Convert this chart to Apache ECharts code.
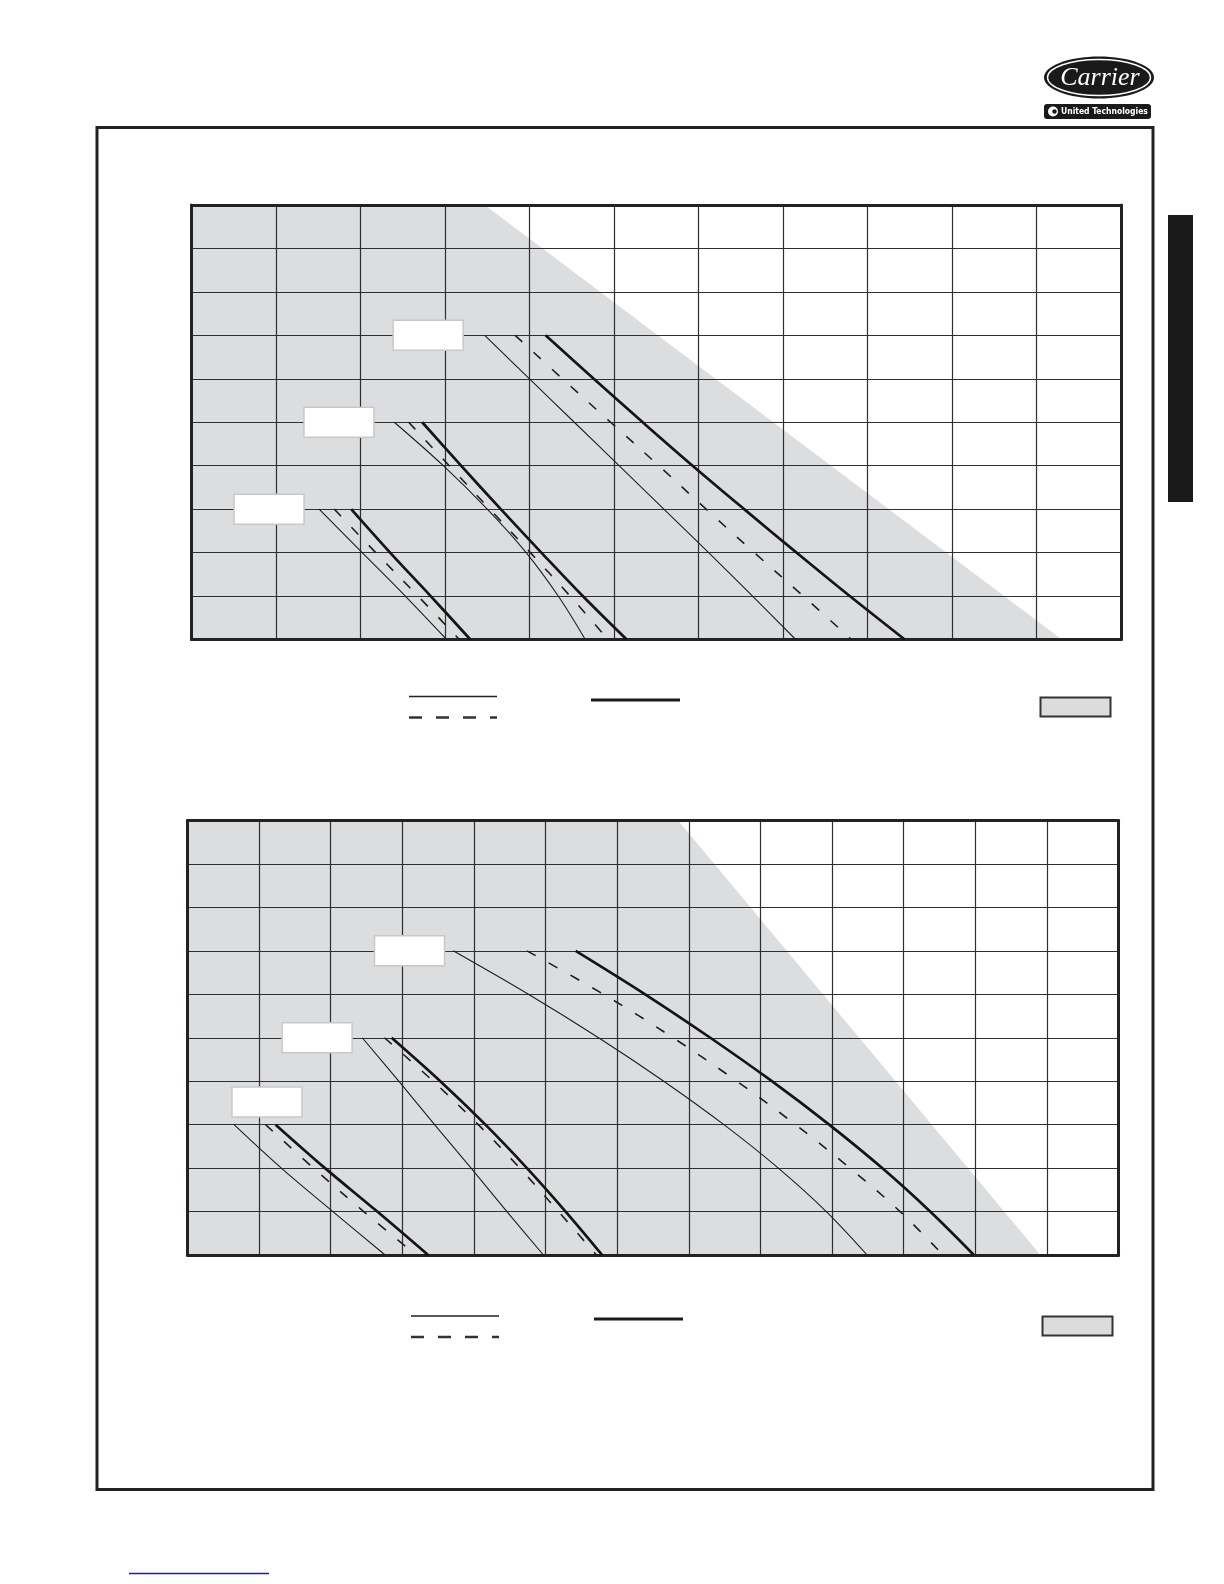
<!DOCTYPE html>
<html>
<head>
<meta charset="utf-8">
<script src="https://cdn.jsdelivr.net/npm/echarts/dist/echarts.min.js"></script>
<style>
html,body{margin:0;padding:0;background:#fff;}
#c{width:1224px;height:1584px;}
</style>
</head>
<body>
<div id="c"></div>
<script>
// ---------- data (abstract grid units: x = columns, y = rows) ----------
const xMax1 = 11, xMax2 = 13, yMax = 10;

// shaded operating region boundary
const shade1 = [[0, 10], [3.47, 10], [10.30, 0]];
const shade2 = [[0, 10], [6.85, 10], [11.91, 0]];

// chart 1 curves [x, y]
const c1ThinA   = [[1.51, 3], [2.02, 2], [2.53, 1], [3.02, 0]];
const c1DashA   = [[1.69, 3], [2.18, 2], [2.68, 1], [3.17, 0]];
const c1ThickA  = [[1.89, 3], [2.35, 2], [2.83, 1], [3.30, 0]];
const c1ThinB   = [[2.40, 5], [2.98, 4], [3.50, 3], [3.96, 2], [4.34, 1], [4.66, 0]];
const c1DashB   = [[2.57, 5], [3.05, 4], [3.53, 3], [4.01, 2], [4.48, 1], [4.93, 0]];
const c1ThickB  = [[2.73, 5], [3.19, 4], [3.66, 3], [4.14, 2], [4.63, 1], [5.15, 0]];
const c1ThinC   = [[3.47, 7], [4.00, 6], [4.53, 5], [5.06, 4], [5.59, 3], [6.12, 2], [6.64, 1], [7.15, 0]];
const c1DashC   = [[3.83, 7], [4.39, 6], [4.96, 5], [5.53, 4], [6.09, 3], [6.66, 2], [7.24, 1], [7.81, 0]];
const c1ThickC  = [[4.19, 7], [4.76, 6], [5.34, 5], [5.93, 4], [6.54, 3], [7.16, 2], [7.79, 1], [8.44, 0]];

// chart 2 curves [x, y]
const c2ThinA   = [[0.65, 3], [1.31, 2], [2.03, 1], [2.76, 0]];
const c2DashA   = [[1.09, 3], [1.76, 2], [2.46, 1], [3.19, 0]];
const c2ThickA  = [[1.23, 3], [1.92, 2], [2.65, 1], [3.36, 0]];
const c2ThinB   = [[2.44, 5], [2.95, 4], [3.45, 3], [3.96, 2], [4.46, 1], [4.97, 0]];
const c2DashB   = [[2.75, 5], [3.43, 4], [4.06, 3], [4.64, 2], [5.18, 1], [5.71, 0]];
const c2ThickB  = [[2.85, 5], [3.53, 4], [4.16, 3], [4.74, 2], [5.28, 1], [5.79, 0]];
const c2ThinC   = [[3.71, 7], [4.76, 6], [5.74, 5], [6.65, 4], [7.49, 3], [8.25, 2], [8.92, 1], [9.49, 0]];
const c2DashC   = [[4.74, 7], [5.81, 6], [6.78, 5], [7.67, 4], [8.49, 3], [9.25, 2], [9.95, 1], [10.55, 0]];
const c2ThickC  = [[5.42, 7], [6.39, 6], [7.30, 5], [8.16, 4], [8.96, 3], [9.70, 2], [10.37, 1], [10.98, 0]];

// label box anchors (box centres)
const labels1 = [[0.918, 3], [1.745, 5], [2.80, 7]];
const labels2 = [[1.11, 3.52], [1.81, 5], [3.10, 7]];

// ---------- styles ----------
const gridLine = {color: '#2f2f2f', width: 1.2};
const borderLine = {color: '#222', width: 3};
const thinStyle = {color: '#1e1e1e', width: 1.1};
const dashStyle = {color: '#1e1e1e', width: 1.6, type: [10, 15]};
const thickStyle = {color: '#141414', width: 2.7};

function axisPair(kind, gi, max) {
  const base = {type: 'value', gridIndex: gi, min: 0, max: max, interval: 1,
    axisTick: {show: false}, axisLabel: {show: false}};
  const a = Object.assign({}, base, {
    position: kind === 'x' ? 'bottom' : 'left', z: 2,
    axisLine: {show: true, onZero: false, lineStyle: borderLine},
    splitLine: {show: true, lineStyle: gridLine}
  });
  const b = Object.assign({}, base, {
    position: kind === 'x' ? 'top' : 'right', z: 5,
    axisLine: {show: true, onZero: false, lineStyle: borderLine},
    splitLine: {show: false}
  });
  return [a, b];
}

function shadeSeries(data, ai) {
  return {type: 'line', xAxisIndex: ai, yAxisIndex: ai, data: data, z: 1,
    symbol: 'none', silent: true, lineStyle: {width: 0},
    areaStyle: {color: '#dcddde', opacity: 1}};
}
function curve(data, style, ai) {
  return {type: 'line', xAxisIndex: ai, yAxisIndex: ai, data: data, z: 3,
    symbol: 'none', smooth: 0.35, silent: true, lineStyle: style};
}
function boxes(data, ai) {
  return {type: 'custom', xAxisIndex: ai, yAxisIndex: ai, data: data, z: 4, silent: true,
    renderItem: function (params, api) {
      const p = api.coord([api.value(0), api.value(1)]);
      return {type: 'rect', shape: {x: p[0] - 35, y: p[1] - 15, width: 70, height: 30},
        style: {fill: '#ffffff', stroke: '#c8c8c8', lineWidth: 1.5}};
    }};
}

const series = [
  shadeSeries(shade1, 0),
  curve(c1ThinA, thinStyle, 0), curve(c1DashA, dashStyle, 0), curve(c1ThickA, thickStyle, 0),
  curve(c1ThinB, thinStyle, 0), curve(c1DashB, dashStyle, 0), curve(c1ThickB, thickStyle, 0),
  curve(c1ThinC, thinStyle, 0), curve(c1DashC, dashStyle, 0), curve(c1ThickC, thickStyle, 0),
  boxes(labels1, 0),
  shadeSeries(shade2, 2),
  curve(c2ThinA, thinStyle, 2), curve(c2DashA, dashStyle, 2), curve(c2ThickA, thickStyle, 2),
  curve(c2ThinB, thinStyle, 2), curve(c2DashB, dashStyle, 2), curve(c2ThickB, thickStyle, 2),
  curve(c2ThinC, thinStyle, 2), curve(c2DashC, dashStyle, 2), curve(c2ThickC, thickStyle, 2),
  boxes(labels2, 2)
];

function legendKeys(yThin, yDash, xThin, xThick, yThick, boxX, boxY) {
  return [
    {type: 'line', shape: {x1: xThin, y1: yThin, x2: xThin + 88, y2: yThin}, style: {stroke: '#222', lineWidth: 1.4}},
    {type: 'line', shape: {x1: xThin, y1: yDash, x2: xThin + 88, y2: yDash}, style: {stroke: '#333', lineWidth: 2.4, lineDash: [13, 14]}},
    {type: 'line', shape: {x1: xThick, y1: yThick, x2: xThick + 89, y2: yThick}, style: {stroke: '#1a1a1a', lineWidth: 2.8}},
    {type: 'rect', shape: {x: boxX, y: boxY, width: 70, height: 19}, style: {fill: '#dcdcdc', stroke: '#333', lineWidth: 2}}
  ];
}

const graphic = [
  // page frame
  {type: 'rect', shape: {x: 97, y: 127.5, width: 1056, height: 1362}, style: {fill: 'none', stroke: '#222', lineWidth: 3}, z: 10},
  // side tab
  {type: 'rect', shape: {x: 1168, y: 215, width: 25, height: 287}, style: {fill: '#1a1a1a'}},
  // logo
  {type: 'ellipse', shape: {cx: 1099, cy: 77.5, rx: 55, ry: 21}, style: {fill: '#1a1a1a'}},
  {type: 'ellipse', shape: {cx: 1099, cy: 77.5, rx: 51.5, ry: 18}, style: {fill: 'none', stroke: '#fff', lineWidth: 1.4}},
  {type: 'text', x: 1100, y: 78, style: {text: 'Carrier', fill: '#fff', font: 'italic 26px "Liberation Serif", serif', align: 'center', verticalAlign: 'middle'}},
  {type: 'rect', shape: {x: 1044, y: 104, width: 107, height: 15, r: 3}, style: {fill: '#1a1a1a'}},
  {type: 'circle', shape: {cx: 1053, cy: 111.5, r: 5}, style: {fill: '#fff'}},
  {type: 'circle', shape: {cx: 1054.5, cy: 111.5, r: 2.2}, style: {fill: '#1a1a1a'}},
  {type: 'text', x: 1061, y: 111.8, style: {text: 'United Technologies', fill: '#fff', font: 'bold 8.5px "Liberation Sans Narrow", "DejaVu Sans Condensed", sans-serif', align: 'left', verticalAlign: 'middle'}},
  // link underline bottom-left
  {type: 'line', shape: {x1: 129, y1: 1573.5, x2: 269, y2: 1573.5}, style: {stroke: '#1c1ca8', lineWidth: 1.5}}
].concat(
  legendKeys(696.5, 717.5, 409, 591, 700, 1040.5, 697.5),
  legendKeys(1316, 1337, 411, 594, 1319, 1042.5, 1316.5)
);

const x1 = axisPair('x', 0, xMax1), y1 = axisPair('y', 0, yMax);
const x2 = axisPair('x', 1, xMax2), y2 = axisPair('y', 1, yMax);

const option = {
  animation: false,
  backgroundColor: '#ffffff',
  grid: [
    {left: 191.5, top: 205, width: 929.5, height: 434.5},
    {left: 187.5, top: 820.5, width: 931, height: 434.5}
  ],
  xAxis: [x1[0], x1[1], x2[0], x2[1]],
  yAxis: [y1[0], y1[1], y2[0], y2[1]],
  series: series,
  graphic: graphic
};

const chart = echarts.init(document.getElementById('c'), null, {renderer: 'canvas', width: 1224, height: 1584});
chart.setOption(option);
</script>
</body>
</html>
